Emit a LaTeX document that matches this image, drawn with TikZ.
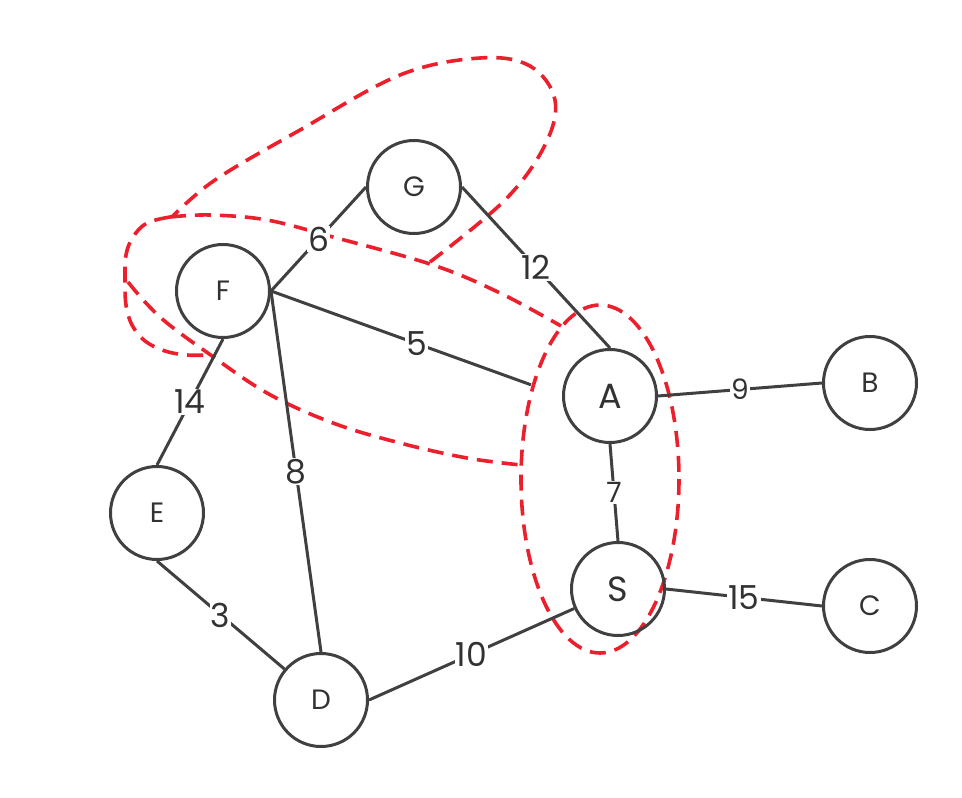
\documentclass[tikz,border=0pt]{standalone}
\usepackage{fontspec}
\setmainfont{Poppins}
\definecolor{edgegray}{RGB}{64,64,64}
\definecolor{txtgray}{RGB}{50,50,50}
\definecolor{grpred}{RGB}{236,32,44}
\begin{document}
\begin{tikzpicture}[x=1pt,y=-1pt,
  vtx/.style={circle, draw=edgegray, line width=3pt, minimum size=93pt, inner sep=0pt,
              font=\fontsize{28}{28}\selectfont, text=txtgray},
  bigvtx/.style={vtx, font=\fontsize{35}{35}\selectfont},
  edge/.style={draw=edgegray, line width=3pt},
  lbl/.style={fill=white, inner sep=1pt, font=\fontsize{33}{33}\selectfont, text=txtgray},
  slbl/.style={lbl, font=\fontsize{28}{28}\selectfont},
  grp/.style={draw=grpred, line width=3.6pt, dash pattern=on 16pt off 9pt, line join=round}]
\useasboundingbox (0,0) rectangle (962,798);

% red dashed groupings
\draw[grp] (600,479) ellipse [x radius=79, y radius=174];
\draw[grp] plot[smooth, tension=0.6] coordinates {(430,262) (505,200) (545,145) (555,100) (530,66) (480,58) (400,75) (300,130) (215,180) (172,217)};
\draw[grp] plot[smooth, tension=0.6] coordinates {(170,217) (210,215) (267,220) (333,237) (433,265) (500,293) (561,326)};
\draw[grp] plot[smooth, tension=0.6] coordinates {(170,217) (147,223) (133,237) (126,255) (125,280) (126,305) (132,325) (145,341) (165,351) (187,355) (210,355)};
\draw[grp] plot[smooth, tension=0.6] coordinates {(128,282) (145,302) (167,323) (205,351) (267,393) (333,423) (400,443) (467,458) (521,465)};

% vertices
\node[vtx] (G) at (414,187) {G};
\node[vtx] (F) at (223,291) {F};
\node[bigvtx] (A) at (610,396) {A};
\node[vtx] (B) at (870,383) {B};
\node[bigvtx] (S) at (618,589) {S};
\node[vtx] (C) at (870,606) {C};
\node[vtx] (E) at (157,513) {E};
\node[vtx] (D) at (321,700) {D};

% edges
\draw[edge] (F.east) -- node[lbl]{6} (G.west);
\draw[edge] (G.east) -- node[lbl]{12} (A.north);
\draw[edge, shorten >=33pt] (F.east) -- node[lbl]{5} (A.west);
\draw[edge] (F.east) -- node[lbl]{8} (D.north);
\draw[edge] (F.south) -- node[lbl]{14} (E.north);
\draw[edge] (E.south) -- node[lbl]{3} (D);
\draw[edge] (D.east) -- node[lbl]{10} (S);
\draw[edge] (A.south) -- node[slbl]{7} (S.north);
\draw[edge] (A.east) -- node[slbl]{9} (B.west);
\draw[edge] (S.east) -- node[lbl]{15} (C.west);
\end{tikzpicture}
\end{document}
